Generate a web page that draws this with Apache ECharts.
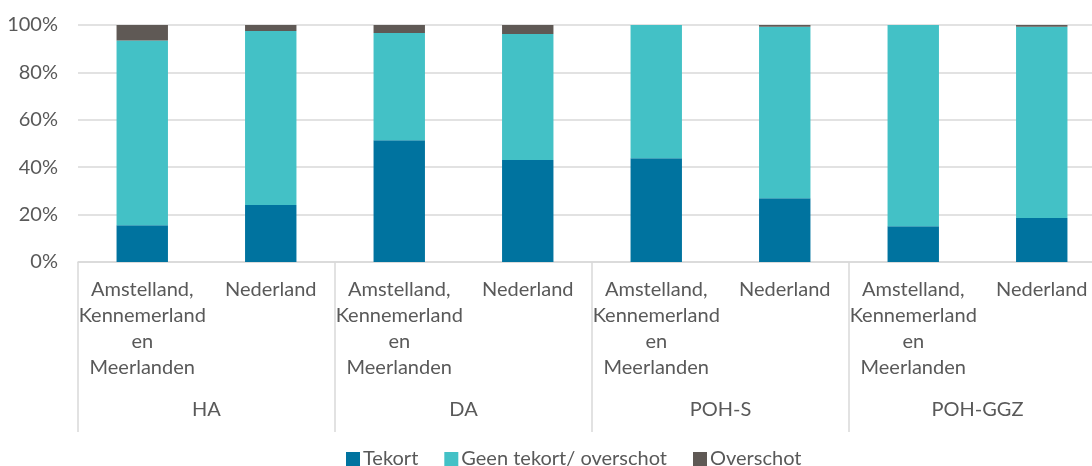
<!DOCTYPE html>
<html>
<head>
<meta charset="utf-8">
<script src="https://cdn.jsdelivr.net/npm/echarts@6/dist/echarts.min.js"></script>
<style>
  html, body { margin: 0; padding: 0; background: #fff; overflow: hidden; }
  /* the plot runs a bit past the right edge of the picture, so the canvas is wider than the window */
  #chart { width: 1106px; height: 466px; }
</style>
</head>
<body>
<div id="chart"></div>
<script>
// regions per bar, groups under them
const regions = [
  'Amstelland,\nKennemerland\nen\nMeerlanden', 'Nederland',
  'Amstelland,\nKennemerland\nen\nMeerlanden', 'Nederland',
  'Amstelland,\nKennemerland\nen\nMeerlanden', 'Nederland',
  'Amstelland,\nKennemerland\nen\nMeerlanden', 'Nederland'
]
const groups = ['HA', 'DA', 'POH-S', 'POH-GGZ']

// percentages
const tekort = [15.5, 24.1, 51.4, 43.0, 43.8, 26.9, 15.1, 18.6]
const geenTekort = [78.0, 73.4, 45.2, 53.2, 56.2, 72.4, 84.9, 80.7]
const overschot = [6.5, 2.5, 3.4, 3.8, 0, 0.7, 0, 0.7]

const yTicks = [0, 20, 40, 60, 80, 100]

const font = 'Lato, "Noto Sans", sans-serif'
const textColor = '#595959'
const gridColor = '#d9d9d9'

const chart = echarts.init(document.getElementById('chart'))

const barSeries = (name, data, color) => ({
  name: name,
  type: 'bar',
  stack: 'total',
  barWidth: '40%',
  data: data,
  itemStyle: { color: color },
  emphasis: { disabled: true }
})

chart.setOption({
  animation: false,
  textStyle: { fontFamily: font },
  grid: { left: 78, top: 25, right: 0, height: 237, containLabel: false },
  legend: {
    left: 341,
    top: 444,
    itemWidth: 14,
    itemHeight: 14,
    itemGap: 26,
    icon: 'rect',
    textStyle: { color: textColor, fontSize: 20, fontFamily: font, padding: [0, 0, 0, -2] },
    data: ['Tekort', 'Geen tekort/ overschot', 'Overschot']
  },
  xAxis: [
    {
      type: 'category',
      data: regions,
      axisLine: { lineStyle: { color: gridColor, width: 1.5 } },
      axisTick: { show: false },
      axisLabel: {
        interval: 0,
        margin: 15,
        color: textColor,
        fontSize: 20,
        lineHeight: 26,
        fontFamily: font,
        align: 'center'
      }
    },
    {
      type: 'category',
      data: groups,
      position: 'bottom',
      axisLine: { show: false },
      axisTick: {
        show: true,
        interval: 0,
        length: 170,
        lineStyle: { color: gridColor, width: 1.5 }
      },
      axisLabel: {
        interval: 0,
        margin: 138,
        color: textColor,
        fontSize: 20,
        fontFamily: font
      }
    }
  ],
  yAxis: {
    type: 'value',
    min: yTicks[0],
    max: yTicks[yTicks.length - 1],
    interval: yTicks[1] - yTicks[0],
    axisLine: { show: false },
    axisTick: { show: false },
    splitLine: { lineStyle: { color: gridColor, width: 1.5 } },
    axisLabel: {
      margin: 20,
      color: textColor,
      fontSize: 20,
      fontFamily: font,
      formatter: '{value}%'
    }
  },
  series: [
    barSeries('Tekort', tekort, '#00739f'),
    barSeries('Geen tekort/ overschot', geenTekort, '#43c1c6'),
    barSeries('Overschot', overschot, '#5f5955')
  ]
})
</script>
</body>
</html>
